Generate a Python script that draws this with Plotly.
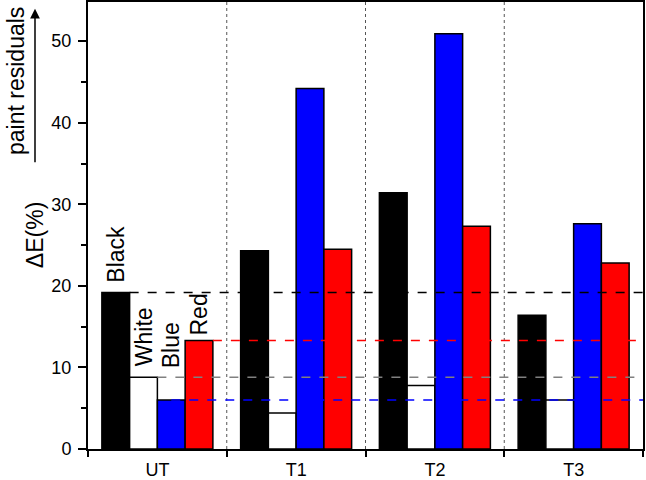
import plotly.graph_objects as go

groups = ["UT", "T1", "T2", "T3"]
series = ["Black", "White", "Blue", "Red"]
black = [19.2, 24.3, 31.4, 16.4]
white = [8.8, 4.4, 7.8, 6.0]
blue = [6.0, 44.2, 50.9, 27.6]
red = [13.3, 24.5, 27.3, 22.8]
colors = ["#000000", "#ffffff", "#0000ff", "#ff0000"]
ref_colors = ["#000000", "#808080", "#0000ff", "#ff0000"]
label_shift = [8, 9, 30, 3]

values = [black, white, blue, red]
xs = list(range(len(groups)))
FONT = "Liberation Sans, Arial, sans-serif"

fig = go.Figure()
for name, vals, col in zip(series, values, colors):
    fig.add_trace(go.Bar(x=xs, y=vals, name=name,
                         marker=dict(color=col, line=dict(color="black", width=1.5))))

bw = 0.8 / len(series)
# horizontal reference lines at UT values
for k, (vals, col) in enumerate(zip(values, ref_colors)):
    left = xs[0] - 0.4 + bw * (k + 1)
    if k == 2:
        left -= bw / 2
    fig.add_shape(type="line", xref="x", yref="y", x0=left, x1=len(groups) - 0.5,
                  y0=vals[0], y1=vals[0], line=dict(color=col, width=1.5, dash="dash"),
                  layer="above")
# vertical separators
for i in range(len(groups) - 1):
    fig.add_shape(type="line", xref="x", yref="paper", x0=i + 0.5, x1=i + 0.5,
                  y0=0, y1=1, line=dict(color="#555555", width=1, dash="dot"), layer="below")

# labels above UT bars
for k, (name, vals) in enumerate(zip(series, values)):
    fig.add_annotation(x=xs[0] - 0.4 + bw * (k + 0.5), y=vals[0], text=name,
                       textangle=-90, showarrow=False, xanchor="center", yanchor="bottom",
                       yshift=label_shift[k], font=dict(size=23, color="black", family=FONT))

fig.add_annotation(xref="paper", yref="paper", x=-0.095, y=0.479, text="ΔE(%)",
                   textangle=-90, showarrow=False, xanchor="center", yanchor="middle",
                   font=dict(size=23, color="black", family=FONT))
fig.add_annotation(xref="paper", yref="paper", x=-0.130, y=0.823, text="paint residuals",
                   textangle=-90, showarrow=False, xanchor="center", yanchor="middle",
                   font=dict(size=23, color="black", family=FONT))
fig.add_annotation(xref="paper", yref="paper", x=-0.0955, y=0.985, text="",
                   showarrow=True, ax=0, ay=155, arrowhead=2, arrowsize=1.3,
                   arrowwidth=1.5, arrowcolor="black")

fig.update_layout(
    width=646, height=480, margin=dict(l=88, r=3, t=2, b=31, autoexpand=False),
    plot_bgcolor="white", paper_bgcolor="white", showlegend=False,
    barmode="group", bargap=0.2, bargroupgap=0,
    font=dict(family=FONT, size=18, color="black"),
)
fig.update_xaxes(range=[-0.5, len(groups) - 0.5], tickvals=xs, ticktext=groups,
                 ticks="", showgrid=False, zeroline=False, showline=True, automargin=False,
                 linecolor="black", linewidth=2, mirror=True, ticklabelstandoff=3,
                 minor=dict(tickvals=[i + 0.5 for i in range(-1, len(groups))],
                            ticks="outside", ticklen=6, tickwidth=2, tickcolor="black"),
                 tickfont=dict(size=18))
fig.update_yaxes(range=[0, 54.8], dtick=10, ticks="outside", ticklen=8, tickwidth=2,
                 tickcolor="black", showgrid=False, zeroline=False, showline=True, automargin=False,
                 linecolor="black", linewidth=2, mirror=True, ticklabelstandoff=3,
                 minor=dict(dtick=5, ticks="outside", ticklen=5, tickwidth=1.5, tickcolor="black"),
                 tickfont=dict(size=18))

fig.write_html("out.html")
